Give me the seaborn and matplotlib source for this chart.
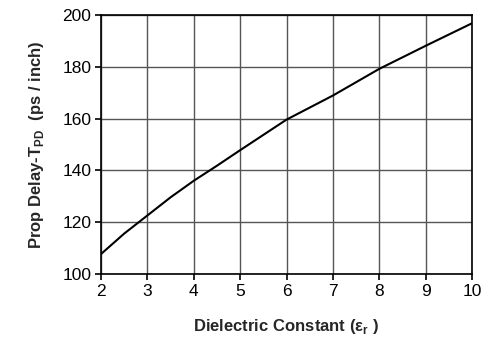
import matplotlib
matplotlib.use("Agg")
import matplotlib.pyplot as plt
import seaborn as sns
import pandas as pd

# values
dielectric = [2, 2.5, 3, 3.5, 4, 4.5, 5, 6, 7, 8, 9, 10]
prop_delay = [107.7, 115.6, 122.6, 129.6, 136.0, 141.8, 147.8, 159.6, 168.9, 179.2, 188.1, 196.8]

x_ticks = [2, 3, 4, 5, 6, 7, 8, 9, 10]
y_ticks = [100, 120, 140, 160, 180, 200]

df = pd.DataFrame({"er": dielectric, "tpd": prop_delay})

sns.set_theme(style="ticks")
plt.rcParams['font.family'] = ['Liberation Sans', 'DejaVu Sans']
plt.rcParams['mathtext.fontset'] = 'custom'
plt.rcParams['mathtext.rm'] = 'Liberation Sans'
plt.rcParams['mathtext.bf'] = 'Liberation Sans:bold'

fig = plt.figure(figsize=(4.82, 3.42), dpi=100)
ax = fig.add_axes([101 / 482, 1 - 274 / 342, (472 - 101) / 482, (274 - 15) / 342])

sns.lineplot(data=df, x="er", y="tpd", ax=ax, color="black", linewidth=1.5)

ax.set_xlim(2, 10)
ax.set_ylim(100, 200)
ax.set_xticks(x_ticks)
ax.set_yticks(y_ticks)
ax.grid(True, color="#555555", linewidth=1.0)
for s in ax.spines.values():
    s.set_color("black")
    s.set_linewidth(1.2)
    s.set_visible(True)
ax.tick_params(direction="out", length=4, width=1.2, color="black",
               labelsize=12.5, labelcolor="black", pad=3)

ax.set_xlabel(r"Dielectric Constant (ε$_\mathbf{r}$ )", fontsize=12, fontweight="bold", labelpad=13)
ax.set_ylabel(r"Prop Delay-T$_\mathbf{PD}$  (ps / inch)", fontsize=12, fontweight="bold", labelpad=12)

fig.savefig("out.png", dpi=100)
